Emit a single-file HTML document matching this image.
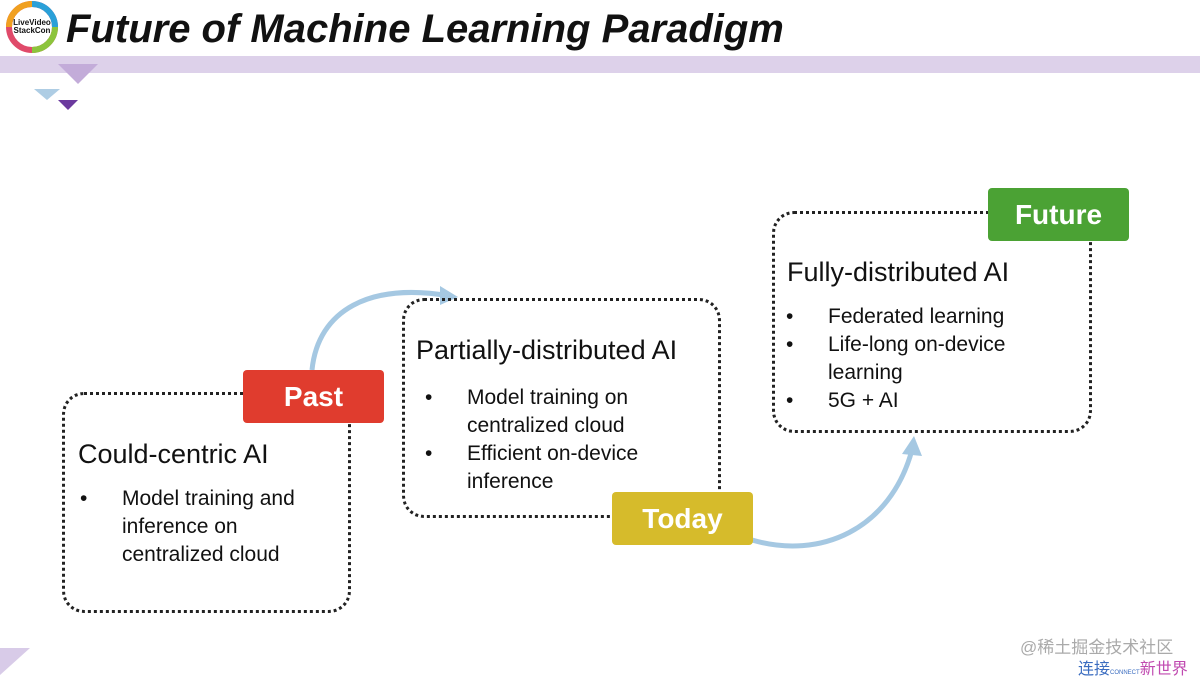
<!DOCTYPE html>
<html><head><meta charset="utf-8"><style>
body{margin:0;width:1200px;height:675px;background:#fff;position:relative;overflow:hidden;font-family:"Liberation Sans",sans-serif;color:#111}
.a{position:absolute}
.box{position:absolute;border:3px dotted #222;border-radius:22px;box-sizing:border-box}
.tag{position:absolute;color:#fff;font-weight:bold;font-size:28px;text-align:center;border-radius:4px;box-sizing:border-box}
.h{position:absolute;font-size:27px;white-space:nowrap}
ul{position:absolute;margin:0;padding:0;list-style:none;font-size:21px;line-height:28px}
li{position:relative;padding-left:42px}
li:before{content:"•";position:absolute;left:0}
</style></head><body>
<div class="a" style="left:0;top:56px;width:1200px;height:17px;background:#ddd1ea"></div>
<svg class="a" style="left:0;top:0" width="1200" height="675">
<polygon points="58,64 98,64 78,84" fill="#c3acd9"/>
<polygon points="34,89 60,89 47,100" fill="#aecde4"/>
<polygon points="58,100 78,100 68,110" fill="#6b3a9e"/>
<polygon points="0,648 30,648 0,675" fill="#d8cbe8"/>
<circle cx="32" cy="27" r="23" fill="none" stroke="#e04a6a" stroke-width="6"/>
<path d="M32,4 A23,23 0 0 1 55,27" fill="none" stroke="#2aa0d8" stroke-width="6"/>
<path d="M55,27 A23,23 0 0 1 32,50" fill="none" stroke="#8cc43c" stroke-width="6"/>
<path d="M9,27 A23,23 0 0 1 32,4" fill="none" stroke="#f0a020" stroke-width="6"/>
<circle cx="32" cy="27" r="17" fill="#fff"/>
<path d="M312,370 C318,310 370,282 450,296" fill="none" stroke="#a5c8e2" stroke-width="5"/>
<polygon points="440,286 458,297 440,305" fill="#a5c8e2"/>
<path d="M752,540 C820,560 890,530 912,450" fill="none" stroke="#a5c8e2" stroke-width="5"/>
<polygon points="902,454 914,436 922,456" fill="#a5c8e2"/>
</svg>
<div class="a" style="left:12px;top:19px;font-size:8px;font-weight:bold;line-height:8px;text-align:center;width:40px">LiveVideo<br>StackCon</div>
<div class="a" style="left:66px;top:7px;font-size:40px;font-weight:bold;font-style:italic;white-space:nowrap;letter-spacing:0">Future of Machine Learning Paradigm</div>

<div class="box" style="left:62px;top:392px;width:289px;height:221px"></div>
<div class="h" style="left:78px;top:439px">Could-centric AI</div>
<ul style="left:80px;top:485px;width:260px"><li>Model training and inference on centralized cloud</li></ul>
<div class="tag" style="left:243px;top:370px;width:141px;height:53px;line-height:53px;background:#e03c2e">Past</div>

<div class="box" style="left:402px;top:298px;width:319px;height:220px"></div>
<div class="h" style="left:416px;top:335px">Partially-distributed AI</div>
<ul style="left:425px;top:384px;width:280px"><li>Model training on centralized cloud</li><li>Efficient on-device inference</li></ul>
<div class="tag" style="left:612px;top:492px;width:141px;height:53px;line-height:53px;background:#d6bb2b">Today</div>

<div class="box" style="left:772px;top:211px;width:320px;height:222px"></div>
<div class="h" style="left:787px;top:257px">Fully-distributed AI</div>
<ul style="left:786px;top:303px;width:280px"><li>Federated learning</li><li>Life-long on-device learning</li><li>5G + AI</li></ul>
<div class="tag" style="left:988px;top:188px;width:141px;height:53px;line-height:53px;background:#4ba234">Future</div>

<div class="a" style="left:1020px;top:633px;font-size:17px;color:#aaa;font-family:'Liberation Sans','Noto Sans CJK SC',sans-serif">@稀土掘金技术社区</div>
<div class="a" style="left:1078px;top:655px;font-size:16px;color:#3a6cc0;font-family:'Liberation Sans','Noto Sans CJK SC',sans-serif">连接<span style="font-size:6px">CONNECT</span><span style="color:#c04ab0">新世界</span></div>
</body></html>
